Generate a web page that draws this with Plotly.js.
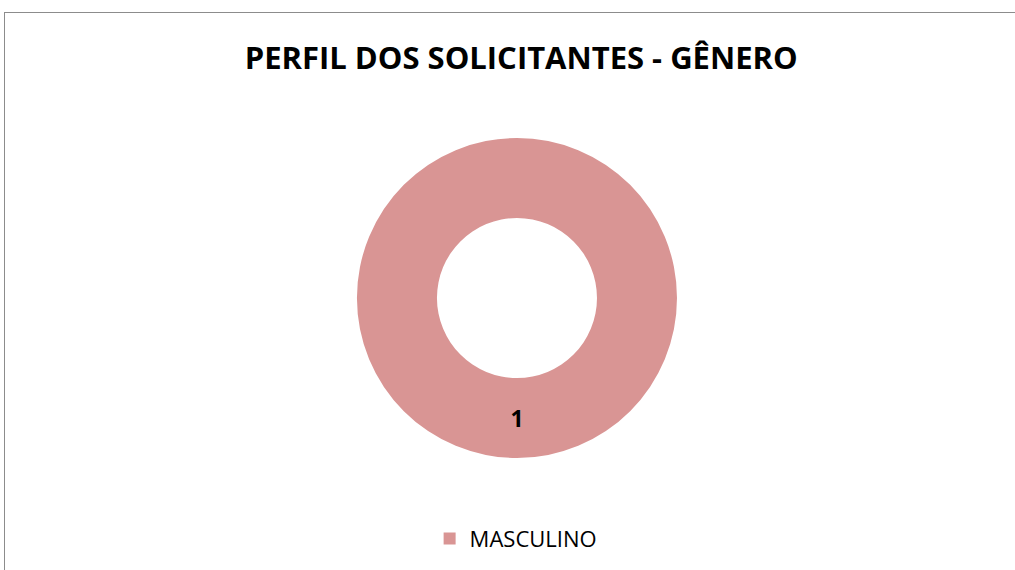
<!DOCTYPE html>
<html>
<head>
<meta charset="utf-8">
<script src="https://cdn.plot.ly/plotly-3.0.1.min.js"></script>
<style>
  html, body { margin: 0; padding: 0; background: #ffffff; overflow: hidden; }
  #frame { position: absolute; left: 4px; top: 12px; width: 1100px; height: 700px; border: 1.5px solid #8c8c8c; box-sizing: border-box; }
  #chart { position: absolute; left: 0; top: 0; width: 1015px; height: 570px; }
</style>
</head>
<body>
<div id="frame"></div>
<div id="chart"></div>
<script>
const categories = ["MASCULINO"];
const values = [1];
const colors = ["#D99594"];
const chartTitle = "PERFIL DOS SOLICITANTES - GÊNERO";

const trace = {
  type: "pie",
  labels: categories,
  values: values,
  hole: 0.5,
  sort: false,
  direction: "clockwise",
  rotation: 0,
  marker: { colors: colors, line: { color: "#ffffff", width: 0 } },
  textinfo: "value",
  textposition: "inside",
  insidetextorientation: "horizontal",
  textfont: { family: "Open Sans, sans-serif", size: 23, color: "#000000", weight: 700 },
  hoverinfo: "label+value",
  domain: { x: [0.3517, 0.6670], y: [0.1965, 0.7579] }
};

const layout = {
  width: 1015,
  height: 570,
  margin: { l: 0, r: 0, t: 0, b: 0 },
  paper_bgcolor: "rgba(0,0,0,0)",
  plot_bgcolor: "rgba(0,0,0,0)",
  title: {
    text: chartTitle,
    font: { family: "Open Sans, sans-serif", size: 31, color: "#000000", weight: 700 },
    x: 0.5135, xanchor: "center",
    y: 0.898, yanchor: "middle"
  },
  showlegend: true,
  legend: {
    orientation: "h",
    x: 0.508, xanchor: "center",
    y: 0.055, yanchor: "middle",
    font: { family: "Open Sans, sans-serif", size: 22, color: "#000000" },
    itemwidth: 30
  }
};

Plotly.newPlot("chart", [trace], layout, { displayModeBar: false, staticPlot: true });
</script>
</body>
</html>
